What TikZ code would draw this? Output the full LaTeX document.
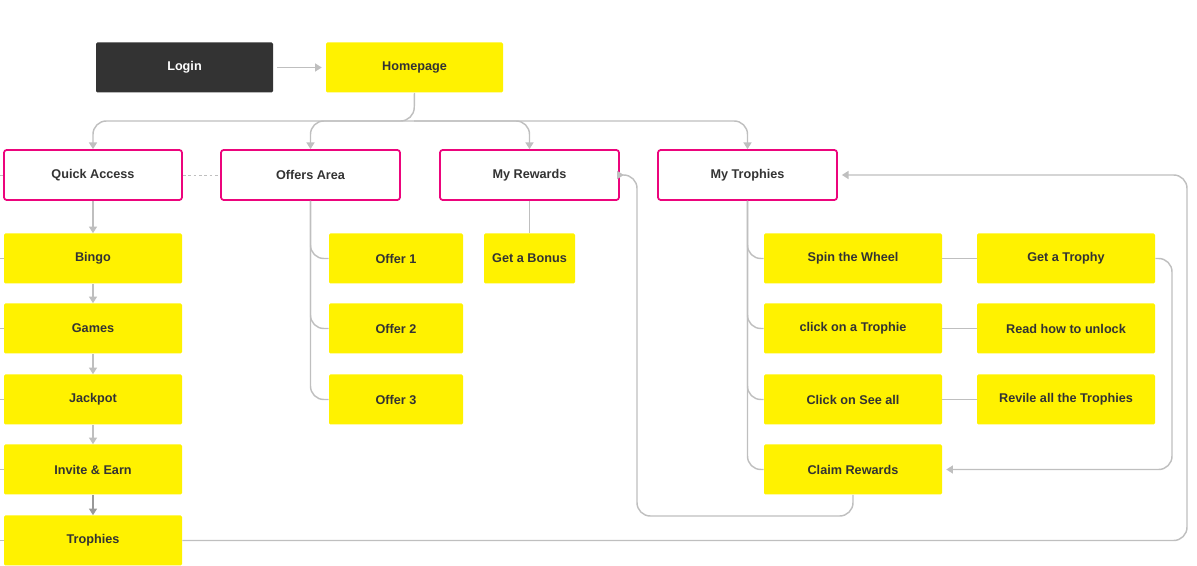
\documentclass[tikz,border=0pt]{standalone}
\usepackage{fontspec}
\setmainfont{Liberation Sans}
\usetikzlibrary{arrows.meta}
\begin{document}
\begin{tikzpicture}[x=0.75pt,y=-0.75pt,
  base/.style={minimum height=37.5pt,inner sep=0pt,font=\bfseries\fontsize{9.5}{11}\selectfont,text=black!80,rounded corners=1pt},
  ybox/.style={base,fill=yellow},
  pbox/.style={base,draw=magenta!85!red,line width=1.3pt,fill=white,rounded corners=2pt},
  con/.style={draw=black!25,line width=1.1pt,rounded corners=10pt},
  arr/.style={con,-{Triangle[length=5pt,width=6pt]}}]
\useasboundingbox (0,0) rectangle (1197,566);
\newcommand{\bx}[6]{\node[#1,minimum width={(#4-#3)*0.75pt}] (#2) at ({(#3+#4)/2},{#5}) {#6};}
\bx{base,fill=black!80,text=white}{login}{96}{273}{67.5}{Login}
\bx{ybox}{home}{326}{503}{67.5}{Homepage}
\bx{pbox}{qa}{4}{182}{175}{Quick Access}
\bx{pbox}{oa}{221}{400}{175}{Offers Area}
\bx{pbox}{mr}{440}{619}{175}{My Rewards}
\bx{pbox}{mt}{658}{837}{175}{My Trophies}
\bx{ybox}{bingo}{4}{182}{258.5}{Bingo}
\bx{ybox}{games}{4}{182}{328.5}{Games}
\bx{ybox}{jack}{4}{182}{399.5}{Jackpot}
\bx{ybox}{inv}{4}{182}{469.5}{Invite \& Earn}
\bx{ybox}{tro}{4}{182}{540.5}{Trophies}
\bx{ybox}{o1}{329}{463}{258.5}{Offer 1}
\bx{ybox}{o2}{329}{463}{328.5}{Offer 2}
\bx{ybox}{o3}{329}{463}{399.5}{Offer 3}
\bx{ybox}{bonus}{484}{575}{258.5}{Get a Bonus}
\bx{ybox}{spin}{764}{942}{258.5}{Spin the Wheel}
\bx{ybox}{click}{764}{942}{328.5}{click on a Trophie}
\bx{ybox}{see}{764}{942}{399.5}{Click on See all}
\bx{ybox}{claim}{764}{942}{469.5}{Claim Rewards}
\bx{ybox}{get}{977}{1155}{258.5}{Get a Trophy}
\bx{ybox}{read}{977}{1155}{328.5}{Read how to unlock}
\bx{ybox}{rev}{977}{1155}{399.5}{Revile all the Trophies}
% arrows
\draw[arr] ([xshift=3pt]login.east) -- ([xshift=-3pt]home.west);
\coordinate (hb) at (414,121);
\draw[arr] (home.south) -- (hb) -| (qa.north);
\draw[arr] (hb) -| (oa.north);
\draw[arr] (hb) -| (mr.north);
\draw[arr] (hb) -| (mt.north);
\draw[con,line width=0.7pt,dash pattern=on 2pt off 2pt] (qa) -- (oa);
\draw[arr] (qa) -- (bingo);
\draw[arr] (bingo) -- (games);
\draw[arr] (games) -- (jack);
\draw[arr] (jack) -- (inv);
\draw[arr,draw=black!40] (inv) -- (tro);
\foreach \n in {o1,o2,o3} \draw[con] (oa.south) |- (\n.west);
\draw[con] (mr.south) -- (bonus.north -| mr.south);
\foreach \n in {spin,click,see,claim} \draw[con] (mt.south) |- (\n.west);
\draw[con] (spin) -- (get);
\draw[con] (click) -- (read);
\draw[con] (see) -- (rev);
\coordinate (r1) at (1172,258.5);
\draw[arr] (get.east) -- (r1) |- ([xshift=3pt]claim.east);
\coordinate (r2) at (637,516);
\draw[arr] (claim.south) |- (r2) |- ([xshift=3pt]mr.east);
\coordinate (r3) at (1187,540.5);
\draw[arr] (tro.east) -- (r3) |- ([xshift=3pt]mt.east);
\foreach \n in {qa,bingo,games,jack,inv,tro} {\coordinate (s\n) at ([xshift=-3pt]\n.west); \draw[con,line width=0.7pt] (s\n) -- (\n.west);}
\end{tikzpicture}
\end{document}
